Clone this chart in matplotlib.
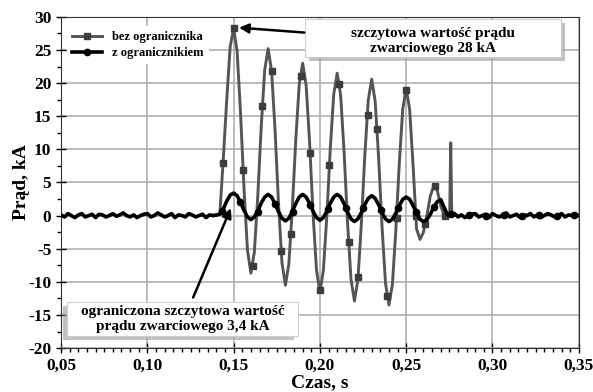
import numpy as np
import matplotlib
matplotlib.use("Agg")
import matplotlib.pyplot as plt
from matplotlib.lines import Line2D
from matplotlib.patches import Rectangle

plt.rcParams['font.family'] = ['Liberation Serif', 'DejaVu Serif']
plt.rcParams['font.weight'] = 'bold'

# baseline noise before and after the fault (kA), sampled every 2 ms
noise_pre = [0.1, -0.2, 0.3, 0.0, -0.3, 0.1, 0.3, -0.2, 0.0, 0.2,
             -0.3, 0.2, 0.1, -0.2, 0.0, 0.3, -0.1, 0.1, 0.4, 0.0,
             -0.2, 0.1, -0.3, 0.0, 0.2, 0.3, -0.2, 0.0, 0.4, 0.1,
             -0.2, 0.0, 0.3, -0.3, 0.1, 0.0, -0.2, 0.3, 0.1, -0.2,
             0.0, 0.2, -0.3, 0.1, 0.0]
noise_post = [0.0, 0.3, -0.2, 0.1, -0.3, 0.0, 0.2, 0.3, -0.2, 0.0,
              0.2, -0.3, 0.3, 0.0, -0.2, 0.1, 0.4, -0.2, 0.0, 0.2,
              -0.3, 0.1, 0.0, 0.3, -0.2, 0.1, -0.3, 0.0, 0.3, 0.1,
              -0.2, 0.0, 0.3, -0.2, 0.1, 0.0, 0.2, 0.0]

# fault current without limiter (kA), 0.140 ... 0.274 s every 2 ms
bez_wave = [0.0, 0.3, 8.5, 17.5, 25.5, 28.3, 24.8, 15.5, 4.1, -5.2,
            -8.7, -5.5, 3.0, 13.5, 22.0, 25.2, 21.8, 12.9, 1.8, -7.1,
            -10.5, -7.3, 1.1, 11.4, 19.8, 23.0, 19.7, 11.1, 0.4, -8.2,
            -11.5, -8.3, -0.1, 10.1, 18.3, 21.5, 18.2, 9.6, -1.0, -9.6,
            -12.9, -9.7, -1.3, 9.0, 17.4, 20.6, 17.3, 8.8, -1.7, -10.2,
            -13.5, -10.4, -2.2, 7.9, 16.1, 19.2, 16.0, 7.5, -2.0, -3.6,
            -2.5, 0.0, 3.0, 4.5, 3.8, 1.5, 0.0, 0.1]
# switching spike
spike_t = [0.2752, 0.2758, 0.2764]
spike_v = [0.0, 11.0, 0.0]

# fault current with limiter (kA), same time grid
z_wave = [0.1, 0.2, 1.0, 2.2, 3.1, 3.4, 3.0, 2.0, 0.8, -0.2,
          -0.6, -0.2, 0.7, 1.9, 2.8, 3.2, 2.8, 1.8, 0.6, -0.4,
          -0.8, -0.4, 0.6, 1.8, 2.8, 3.2, 2.8, 1.85, 0.65, -0.3,
          -0.7, -0.3, 0.65, 1.85, 2.8, 3.2, 2.8, 1.8, 0.5, -0.5,
          -0.9, -0.5, 0.45, 1.65, 2.6, 3.0, 2.6, 1.65, 0.45, -0.5,
          -0.9, -0.55, 0.4, 1.5, 2.45, 2.8, 2.45, 1.5, 0.4, -0.55,
          -0.9, -0.6, 0.2, 1.3, 2.1, 2.4, 1.2, 0.1]

# marker points
bez_mark_t = [0.1439, 0.1500, 0.1554, 0.1610, 0.1665, 0.1720, 0.1776, 0.1832,
              0.1888, 0.1943, 0.1999, 0.2055, 0.2110, 0.2166, 0.2221, 0.2277,
              0.2332, 0.2388, 0.2444, 0.2499, 0.2555, 0.2610, 0.2666, 0.2722]
bez_mark_v = [8.0, 28.3, 6.9, -7.6, 16.5, 21.8, -5.4, -2.8,
              21.1, 9.5, -11.3, 7.6, 19.8, -4.0, -9.2, 15.2,
              13.0, -12.1, -0.3, 19.0, 0.0, -1.3, 4.5, 0.0]
z_mark_t = [0.1435, 0.1537, 0.1639, 0.1741, 0.1843, 0.1945, 0.2047, 0.2149,
            0.2251, 0.2353, 0.2455, 0.2557, 0.2659, 0.2761, 0.2863, 0.2965,
            0.3067, 0.3169, 0.3271, 0.3373, 0.3475]
z_mark_v = [0.7, 2.1, 0.6, 1.8, 0.55, 1.6, 0.95, 1.2,
            1.2, 0.9, 1.2, 0.5, 1.3, 0.2, 0.1, 0.0,
            0.1, 0.0, 0.1, 0.0, 0.1]

t_pre = 0.050 + 0.002 * np.arange(len(noise_pre))
t_wave = 0.140 + 0.002 * np.arange(len(bez_wave))
t_post = 0.276 + 0.002 * np.arange(len(noise_post))

t_bez = np.concatenate([t_pre, t_wave, spike_t, t_post])
v_bez = np.concatenate([noise_pre, bez_wave, spike_v, noise_post])
t_z = np.concatenate([t_pre, t_wave, t_post])
v_z = np.concatenate([noise_pre, z_wave, noise_post])

fig = plt.figure(figsize=(5.93, 3.92), dpi=100)
ax = fig.add_axes([0.103, 0.112, 0.873, 0.845])

grey = '#555555'
ax.plot(t_bez, v_bez, color=grey, lw=2.1, zorder=3)
ax.plot(bez_mark_t, bez_mark_v, ls='none', marker='s', ms=4.2, color='#3c3c3c', zorder=4)
ax.plot(t_z, v_z, color='black', lw=2.6, zorder=5)
ax.plot(z_mark_t, z_mark_v, ls='none', marker='o', ms=4.5, color='black', zorder=6)

ax.set_xlim(0.05, 0.35)
ax.set_ylim(-20, 30)
ax.set_xticks(np.arange(0.05, 0.351, 0.05))
ax.set_xticks(np.arange(0.05, 0.351, 0.005), minor=True)
ax.set_yticks(np.arange(-20, 31, 5))
ax.set_yticks(np.arange(-20, 31, 2.5), minor=True)
ax.set_xticklabels([f"{v:.2f}".replace('.', ',') for v in np.arange(0.05, 0.351, 0.05)])
ax.set_yticklabels([str(v) for v in range(-20, 31, 5)])
ax.tick_params(which='major', direction='inout', length=7, width=1, labelsize=12.5)
ax.tick_params(which='minor', direction='out', length=3, width=1)
ax.grid(True, which='major', color='#b0b0b0', lw=1.2)
ax.set_axisbelow(True)
for s in ax.spines.values():
    s.set_color('#333333')

ax.set_xlabel("Czas, s", fontsize=14, fontweight='bold', labelpad=0)
ax.set_ylabel("Prąd, kA", fontsize=14, fontweight='bold', labelpad=-1)

handles = [Line2D([], [], color=grey, lw=2.1, marker='s', ms=4.2, markerfacecolor='#3c3c3c', markeredgecolor='#3c3c3c'),
           Line2D([], [], color='black', lw=2.6, marker='o', ms=4.5)]
leg = ax.legend(handles, ["bez ogranicznika", "z ogranicznikiem"], loc='upper left',
                bbox_to_anchor=(0.0, 0.99), fontsize=9, frameon=True, handlelength=2.4,
                borderpad=0.4, labelspacing=0.3)
leg.get_frame().set_edgecolor('none')
leg.get_frame().set_facecolor('white')
leg.get_frame().set_alpha(1)

# annotation boxes with shadow
def note_box(x0, y0, x1, y1, dx, dy, text, xc, yc):
    ax.add_patch(Rectangle((x0 + dx, y0 + dy), x1 - x0, y1 - y0, transform=ax.transAxes,
                           facecolor='#9a9a9a', edgecolor='none', alpha=0.6, zorder=7, clip_on=False))
    ax.add_patch(Rectangle((x0, y0), x1 - x0, y1 - y0, transform=ax.transAxes,
                           facecolor='white', edgecolor='#cfcfcf', lw=0.8, zorder=8, clip_on=False))
    ax.text(xc, yc, text, transform=ax.transAxes, ha='center', va='center', fontsize=11,
            fontweight='bold', linespacing=1.2, zorder=9)

note_box(0.471, 0.879, 0.965, 0.994, 0.008, -0.012,
         "szczytowa wartość prądu\nzwarciowego 28 kA", 0.718, 0.928)
note_box(0.012, 0.036, 0.458, 0.139, -0.008, -0.012,
         "ograniczona szczytowa wartość\nprądu zwarciowego 3,4 kA", 0.235, 0.088)

ax.annotate("", xy=(0.1515, 28.4), xytext=(0.1925, 27.6),
            arrowprops=dict(arrowstyle='-|>', color='black', lw=1.8, mutation_scale=14), zorder=10)
ax.annotate("", xy=(0.149, 1.5), xytext=(0.1259, -12.75),
            arrowprops=dict(arrowstyle='-|>', color='black', lw=1.8, mutation_scale=14), zorder=10)

fig.savefig("out.png", dpi=100)
